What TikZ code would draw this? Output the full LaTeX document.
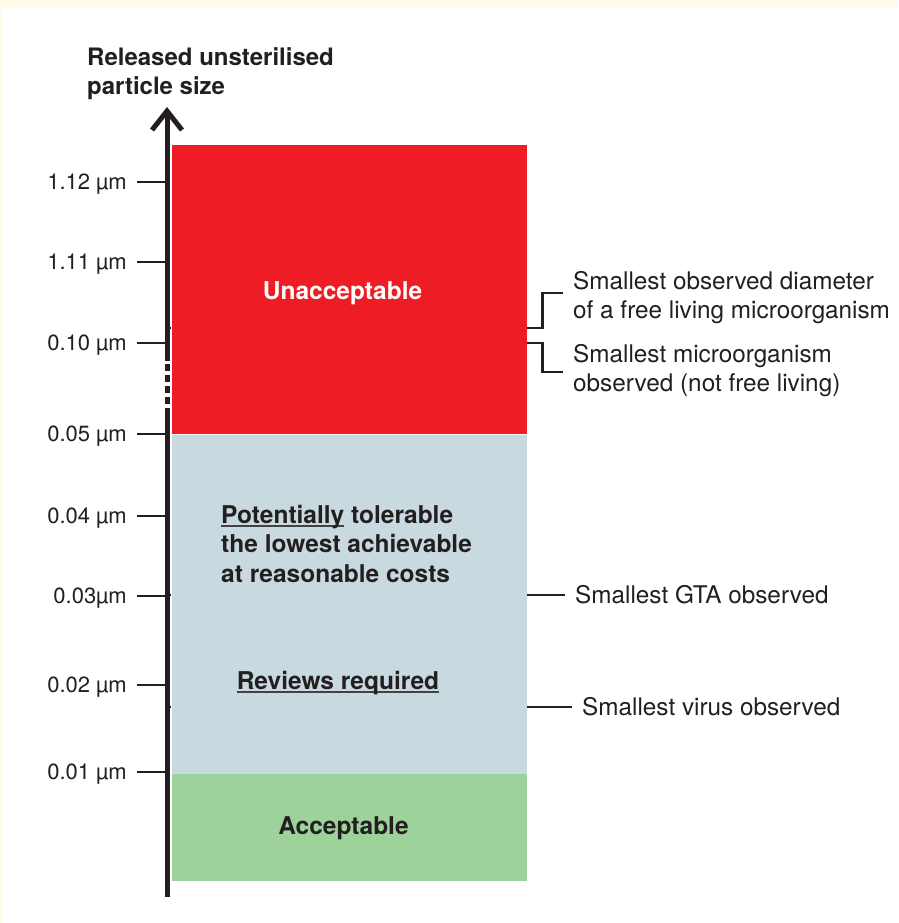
\documentclass[tikz,border=0pt]{standalone}
\usepackage{fontspec}
\setmainfont{TeX Gyre Heros}
\usepackage{tikz}
\usetikzlibrary{arrows.meta, positioning, calc}
\definecolor{unaccred}{HTML}{EE1D25}
\definecolor{reviewblue}{HTML}{C8D9E0}
\definecolor{accgreen}{HTML}{9ED29B}
\definecolor{paper}{HTML}{FFFCE8}
\definecolor{ink}{HTML}{231F20}
\newcommand{\ulword}[1]{\setbox0\hbox{#1}\rlap{\textcolor{ink!85}{\rule[-3.5pt]{\wd0}{1.8pt}}}\box0\relax}

\begin{document}
\begin{tikzpicture}[x=1pt, y=-1pt,
    zone/.style={rectangle, inner sep=0pt, minimum width=355pt},
    zonetxt/.style={font=\fontsize{24.5}{29.5}\selectfont\bfseries, text=ink, inner sep=0pt},
    ticklbl/.style={anchor=base east, font=\fontsize{22}{27}\selectfont, text=ink, inner sep=0pt},
    note/.style={align=left, font=\fontsize{24.3}{29}\selectfont, text=ink, inner sep=0pt},
    axis/.style={line width=5pt, draw=ink},
    tickline/.style={line width=2.6pt, draw=ink},
    lead/.style={line width=2.4pt, draw=ink}
  ]
    \fill[paper] (0,0) rectangle (898,923);
    \fill[white] (2,8) rectangle (898,923);
    \useasboundingbox (0,0) rectangle (898,923);

    \node[zone, fill=unaccred, minimum height=289pt, anchor=north west] (red) at (172,145) {};
    \node[zone, fill=reviewblue, minimum height=339pt, below=0pt of red] (blue) {};
    \node[zone, fill=accgreen, minimum height=107pt, below=0pt of blue] (green) {};

    \node[zonetxt, text=white, anchor=base] (unacc) at (342.5,299) {Unacceptable};
    \node[zonetxt, align=left, anchor=north west] (tol) at (221,505)
      {\ulword{Potentially} tolerable\\the lowest achievable\\at reasonable costs};
    \node[zonetxt, anchor=base] (review) at (338,689) {\ulword{Reviews required}};
    \node[zonetxt, anchor=base] (acc) at (343.5,834) {Acceptable};

    \node[zonetxt, font=\fontsize{24}{29.5}\selectfont\bfseries, align=left, anchor=north west] (title) at (87,47)
      {Released unsterilised\\particle size};

    \coordinate (axbot) at (167,897);
    \coordinate (dashlo) at (167,415);
    \coordinate (dashhi) at (167,361);
    \coordinate (axtop) at (167,107);
    \draw[axis] (axbot) -- (dashlo);
    \draw[axis, dash pattern=on 7pt off 4pt] (dashlo) -- (dashhi);
    \draw[axis, -{Straight Barb[length=19pt, width=30pt]}] (dashhi) -- (axtop);

    \foreach \y/\val [count=\i] in {182/1.12 µm, 262/1.11 µm, 343/0.10 µm, 434/0.05 µm,
        516/0.04 µm, 596/0.03µm, 685/0.02 µm, 772/0.01 µm} {
      \coordinate (tk\i) at (165,\y);
      \node[ticklbl] (lbl\i) at (127,\y+7.5) {\val};
      \draw[tickline] (137,\y) -- (tk\i);
    }

    \coordinate (freemk) at (171,328);
    \coordinate (gtamk) at (171,595);
    \coordinate (virmk) at (171,707);
    \foreach \m in {freemk, gtamk, virmk}
      \draw[line width=1.5pt, ink] (\m) -- ++(-3,0);

    \node[note, anchor=north west] (freelbl) at (573,271)
      {Smallest observed diameter\\of a free living microorganism};
    \node[note, anchor=north west] (obslbl) at (573,344)
      {Smallest microorganism\\observed (not free living)};
    \node[note, anchor=west] (gtalbl) at (575,595) {Smallest GTA observed};
    \node[note, anchor=west] (virlbl) at (582,707) {Smallest virus observed};

    \draw[lead] (red.east |- freemk) -- ++(15,0) |- ([xshift=-10pt, yshift=-22pt]freelbl.north west);
    \draw[lead] (red.east |- tk3) -- ++(15,0) |- ([xshift=-10pt, yshift=-28pt]obslbl.north west);
    \draw[lead] (blue.east |- gtamk) -- ([xshift=-10pt]gtalbl.west);
    \draw[lead] (blue.east |- virmk) -- ([xshift=-10pt]virlbl.west);
  \end{tikzpicture}
\end{document}
